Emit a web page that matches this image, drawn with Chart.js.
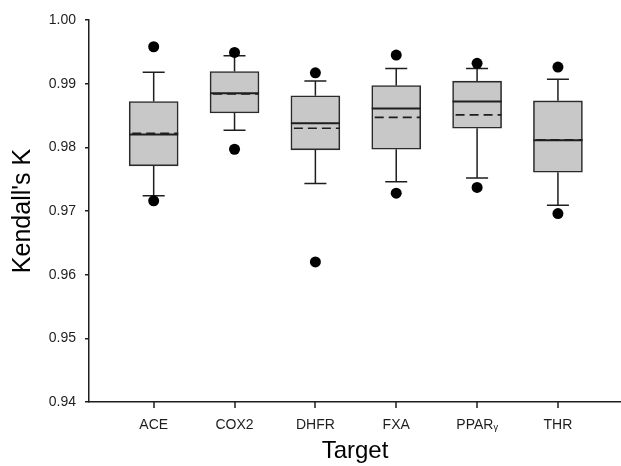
<!DOCTYPE html>
<html>
<head>
<meta charset="utf-8">
<script src="https://cdn.jsdelivr.net/npm/chart.js@4/dist/chart.umd.min.js"></script>
<style>
  html, body { margin: 0; padding: 0; background: #fff; overflow: hidden; }
  canvas { display: block; }
</style>
</head>
<body>
<canvas id="boxChart" width="621" height="466"></canvas>
<script>
// values
const categories = ['ACE', 'COX2', 'DHFR', 'FXA', 'PPARᵧ', 'THR'];
const outLow      = [0.9716, 0.9797, 0.9620, 0.9728, 0.9737, 0.9696];
const whiskerLow  = [0.9724, 0.9827, 0.9743, 0.9746, 0.9752, 0.9709];
const q1          = [0.9771, 0.9854, 0.9796, 0.9797, 0.9830, 0.9761];
const median      = [0.9820, 0.9885, 0.9838, 0.9861, 0.9872, 0.9811];
const mean        = [0.9822, 0.9884, 0.9830, 0.9847, 0.9851, 0.9812];
const q3          = [0.9872, 0.9919, 0.9881, 0.9897, 0.9904, 0.9873];
const whiskerHigh = [0.9918, 0.9944, 0.9904, 0.9924, 0.9924, 0.9907];
const outHigh     = [0.9958, 0.9949, 0.9917, 0.9945, 0.9932, 0.9926];
const yTicks = [0.94, 0.95, 0.96, 0.97, 0.98, 0.99, 1.00];

const ink = '#1e1e1e';
const fontFamily = '"Liberation Sans", Arial, sans-serif';

// whiskers under the boxes, median / mean lines on top of them
const boxLines = {
    id: 'boxLines',
    beforeDatasetsDraw(chart) {
        const ctx = chart.ctx;
        const xs = chart.scales.x, ys = chart.scales.y;
        ctx.save();
        ctx.strokeStyle = ink;
        ctx.lineWidth = 1.5;
        categories.forEach((c, i) => {
            const x = xs.getPixelForValue(i + 1);
            const capHalf = 11;
            ctx.beginPath();
            ctx.moveTo(x, ys.getPixelForValue(q3[i]));
            ctx.lineTo(x, ys.getPixelForValue(whiskerHigh[i]));
            ctx.moveTo(x, ys.getPixelForValue(q1[i]));
            ctx.lineTo(x, ys.getPixelForValue(whiskerLow[i]));
            ctx.moveTo(x - capHalf, ys.getPixelForValue(whiskerHigh[i]));
            ctx.lineTo(x + capHalf, ys.getPixelForValue(whiskerHigh[i]));
            ctx.moveTo(x - capHalf, ys.getPixelForValue(whiskerLow[i]));
            ctx.lineTo(x + capHalf, ys.getPixelForValue(whiskerLow[i]));
            ctx.stroke();
        });
        ctx.restore();
    },
    afterDatasetDraw(chart, args) {
        if (args.meta.type !== 'bar') return;
        const ctx = chart.ctx;
        const ys = chart.scales.y;
        ctx.save();
        ctx.strokeStyle = ink;
        args.meta.data.forEach((bar, i) => {
            const l = bar.x - bar.width / 2, r = bar.x + bar.width / 2;
            ctx.setLineDash([]);
            ctx.lineWidth = 2;
            ctx.beginPath();
            ctx.moveTo(l, ys.getPixelForValue(median[i]));
            ctx.lineTo(r, ys.getPixelForValue(median[i]));
            ctx.stroke();
            ctx.setLineDash([9, 5]);
            ctx.lineWidth = 1.6;
            ctx.beginPath();
            ctx.moveTo(l + 3, ys.getPixelForValue(mean[i]));
            ctx.lineTo(r, ys.getPixelForValue(mean[i]));
            ctx.stroke();
        });
        ctx.restore();
    },
    // category tick marks under the x axis
    afterDraw(chart) {
        const ctx = chart.ctx;
        const xs = chart.scales.x;
        const top = xs.top;
        ctx.save();
        ctx.strokeStyle = ink;
        ctx.lineWidth = 1.5;
        ctx.beginPath();
        categories.forEach((c, i) => {
            const x = Math.round(xs.getPixelForValue(i + 1));
            ctx.moveTo(x, top);
            ctx.lineTo(x, top + 6);
        });
        ctx.stroke();
        ctx.restore();
    }
};

const dots = [];
categories.forEach((c, i) => {
    dots.push({ x: i + 1, y: outLow[i] });
    dots.push({ x: i + 1, y: outHigh[i] });
});

new Chart(document.getElementById('boxChart'), {
    type: 'bar',
    data: {
        datasets: [
            {
                type: 'scatter',
                data: dots,
                order: 0,
                pointRadius: 5.5,
                pointBackgroundColor: '#000',
                pointBorderWidth: 0
            },
            {
                type: 'bar',
                data: categories.map((c, i) => ({ x: i + 1, y: [q1[i], q3[i]] })),
                order: 1,
                backgroundColor: '#c8c8c8',
                borderColor: '#2a2a2a',
                borderWidth: 1.6,
                borderSkipped: false,
                barThickness: 49
            }
        ]
    },
    plugins: [boxLines],
    options: {
        responsive: false,
        animation: false,
        devicePixelRatio: 1,
        layout: { autoPadding: false, padding: { left: 0, right: 0, top: 20, bottom: 0 } },
        plugins: {
            legend: { display: false },
            tooltip: { enabled: false }
        },
        scales: {
            x: {
                type: 'linear',
                offset: false,
                min: 0.2,
                max: 6.78,
                afterBuildTicks: (scale) => {
                    scale.ticks = categories.map((c, i) => ({ value: i + 1 }));
                },
                afterFit: (scale) => {
                    scale.height = 64;
                    scale.paddingLeft = 0;
                    scale.paddingRight = 0;
                },
                ticks: {
                    callback: (v) => categories[v - 1],
                    color: ink,
                    font: { family: fontFamily, size: 14 },
                    padding: 15,
                    maxRotation: 0,
                    autoSkip: false
                },
                grid: {
                    display: true,
                    offset: false,
                    drawOnChartArea: false,
                    drawTicks: false
                },
                border: { display: true, color: ink, width: 1.5 },
                title: {
                    display: true,
                    text: 'Target',
                    color: '#000',
                    font: { family: fontFamily, size: 24 },
                    padding: { top: 0, bottom: 0 }
                }
            },
            y: {
                min: 0.94,
                max: 1.0,
                afterBuildTicks: (scale) => {
                    scale.ticks = yTicks.map(v => ({ value: v }));
                },
                afterFit: (scale) => { scale.width = 89; },
                ticks: {
                    callback: (v) => v.toFixed(2),
                    color: ink,
                    font: { family: fontFamily, size: 14 },
                    padding: 9
                },
                grid: {
                    drawOnChartArea: false,
                    tickLength: 4,
                    color: ink,
                    lineWidth: 1.5
                },
                border: { display: true, color: ink, width: 1.5 },
                title: {
                    display: true,
                    text: "Kendall's K",
                    color: '#000',
                    font: { family: fontFamily, size: 25 },
                    padding: { top: 8, bottom: 0 }
                }
            }
        }
    }
});
</script>
</body>
</html>
